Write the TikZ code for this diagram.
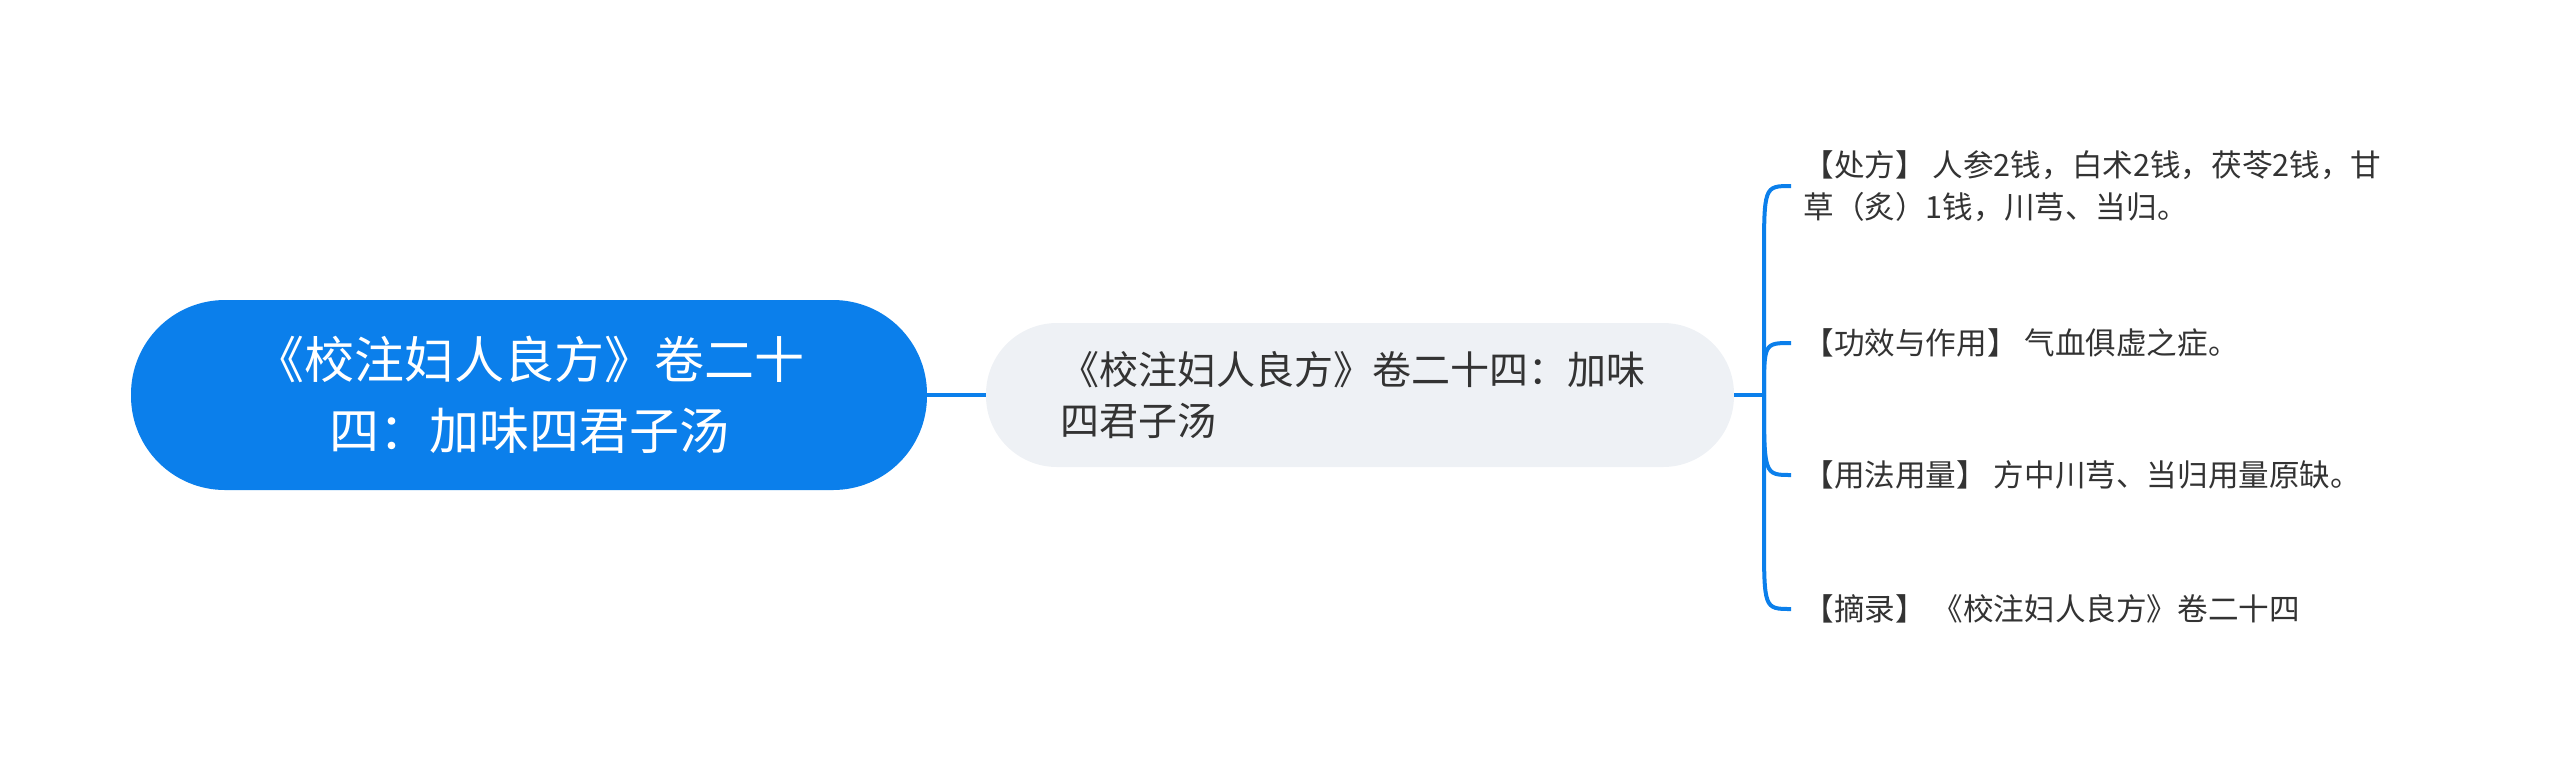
\documentclass[tikz,border=0pt]{standalone}
\usepackage{fontspec}
\newfontfamily\cjk{Noto Sans CJK SC}
\usepackage{tikz}
\definecolor{mapblue}{RGB}{11,127,235}
\definecolor{midgray}{RGB}{238,241,245}
\definecolor{leaftext}{RGB}{51,51,51}
\newcommand{\drawLeaf}[4]{% name, y, text, y where the curve leaves the spine
  \node[leaf] (#1) at (1791,#2) {#3};
  \draw[link] (hub) -- (hub |- 0,#4) .. controls (hub |- 0,#2) .. (#1.west);
}

\begin{document}
\begin{tikzpicture}[x=0.5pt,y=-0.5pt,
  link/.style={draw=mapblue,line width=2pt},
  rootbox/.style={fill=mapblue,text=white,font=\cjk\fontsize{25}{35.5}\selectfont,align=center,
    minimum width=398pt,minimum height=95pt,rounded corners=47pt,inner sep=0pt},
  midbox/.style={fill=midgray,text=leaftext,font=\cjk\fontsize{19.5}{25.5}\selectfont,align=left,
    text width=300pt,minimum height=72pt,inner xsep=37pt,inner ysep=0pt,rounded corners=35.5pt},
  leaf/.style={anchor=west,text=leaftext,font=\cjk\fontsize{15.3}{21}\selectfont,align=left,
    inner xsep=6pt,inner ysep=0pt}]
\useasboundingbox (0,0) rectangle (2560,773);

% Root
\node[rootbox] (root) at (529,395) {《校注妇人良方》卷二十\\四：加味四君子汤};

% Middle topic
\node[midbox] (mid) at (1360,395) {《校注妇人良方》卷二十四：加味\\四君子汤};
\draw[link] (root.east) -- (mid.west);

% Bracket
\coordinate (hub) at (1764,395);
\draw[link] (mid.east) -- (hub);

% Leaves
\drawLeaf{recipe}{186}{【处方】 人参2钱，白术2钱，茯苓2钱，甘\\草（炙）1钱，川芎、当归。}{260}
\drawLeaf{effect}{343}{【功效与作用】 气血俱虚之症。}{395}
\drawLeaf{usage}{475}{【用法用量】 方中川芎、当归用量原缺。}{395}
\drawLeaf{source}{609}{【摘录】 《校注妇人良方》卷二十四}{535}
\end{tikzpicture}
\end{document}
